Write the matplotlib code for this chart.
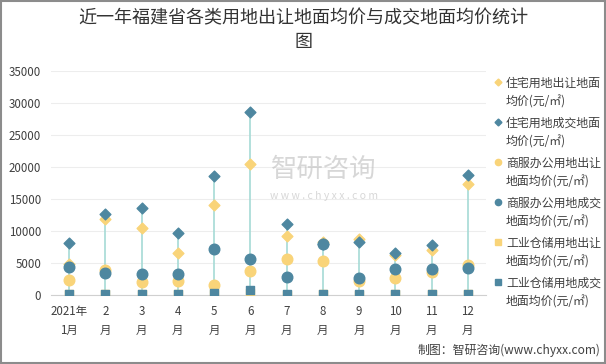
import matplotlib
matplotlib.use("Agg")
import matplotlib.pyplot as plt
from matplotlib.lines import Line2D
import numpy as np

plt.rcParams['font.family'] = ['Noto Sans CJK SC', 'DejaVu Sans']

months = ['2021年\n1月', '2\n月', '3\n月', '4\n月', '5\n月', '6\n月',
          '7\n月', '8\n月', '9\n月', '10\n月', '11\n月', '12\n月']

res_transfer = [4840, 11820, 10520, 6510, 14010, 20520, 9270, 8330, 8750, 6250, 7030, 17290]
res_deal = [8130, 12700, 13650, 9630, 18540, 28590, 11140, 8000, 8330, 6510, 7860, 18800]
com_transfer = [2400, 3900, 2080, 2240, 1510, 3700, 5570, 5360, 2240, 2660, 3540, 4690]
com_deal = [4320, 3390, 3280, 3280, 7190, 5570, 2860, 7920, 2700, 4060, 4110, 4220]
ind_transfer = [120, 130, 120, 110, 150, 300, 60, 120, 60, 80, 120, 130]
ind_deal = [150, 160, 150, 140, 360, 780, 180, 180, 160, 150, 170, 180]

labels = ['住宅用地出让地面\n均价(元/㎡)', '住宅用地成交地面\n均价(元/㎡)',
          '商服办公用地出让\n地面均价(元/㎡)', '商服办公用地成交\n地面均价(元/㎡)',
          '工业仓储用地出让\n地面均价(元/㎡)', '工业仓储用地成交\n地面均价(元/㎡)']

yellow = '#F9D479'
blue = '#4E87A0'

fig = plt.figure(figsize=(6.06, 3.64), dpi=100)
ax = fig.add_axes([51 / 606, 69 / 364, 435 / 606, 224 / 364])

x = np.arange(len(months))
allv = np.array([res_transfer, res_deal, com_transfer, com_deal, ind_transfer, ind_deal])
ax.vlines(x, allv.min(axis=0), allv.max(axis=0), color='#A6DAD6', lw=1.2, zorder=1)

ax.scatter(x, res_transfer, marker='D', s=30, color=yellow, zorder=3)
ax.scatter(x, res_deal, marker='D', s=30, color=blue, zorder=4)
ax.scatter(x, com_transfer, marker='o', s=58, color=yellow, zorder=5)
ax.scatter(x, com_deal, marker='o', s=58, color=blue, zorder=6)
ax.scatter(x, ind_transfer, marker='s', s=30, color=yellow, zorder=7)
ax.scatter(x, ind_deal, marker='s', s=30, color=blue, zorder=8)

ax.set_xlim(-0.5, len(months) - 0.5)
ax.set_ylim(0, 35000)
ax.set_yticks(np.arange(0, 35001, 5000))
ax.set_xticks(x)
ax.set_xticklabels(months, fontsize=8.3, color='#404040', linespacing=1.6)
ax.tick_params(axis='y', labelsize=8.3, colors='#404040', length=0, pad=7)
ax.tick_params(axis='x', length=0, pad=7)
ax.grid(axis='y', color='#EDEDED', lw=0.8, zorder=0)
for s in ['top', 'right', 'left']:
    ax.spines[s].set_visible(False)
ax.spines['bottom'].set_color('#D0D0D0')
ax.set_axisbelow(True)

fig.text(0.5, 0.975, '近一年福建省各类用地出让地面均价与成交地面均价统计\n图',
         ha='center', va='top', fontsize=13, color='#333333', linespacing=1.45)

# watermark
fig.text(0.535, 0.535, '智研咨询', ha='center', va='center', fontsize=19,
         color='#BDBDBD', alpha=0.6)
fig.text(0.535, 0.462, 'w w w . c h y x x . c o m', ha='center', va='center',
         fontsize=7.5, color='#BDBDBD', alpha=0.6)

# legend, marker aligned with first line of each label
markers = ['D', 'D', 'o', 'o', 's', 's']
msizes = [3.5, 3.5, 4.5, 4.5, 4.5, 4.5]
colors = [yellow, blue, yellow, blue, yellow, blue]
for i, (lab, m, ms, c) in enumerate(zip(labels, markers, msizes, colors)):
    ypix = 82 + i * 40
    yf = 1 - ypix / 364
    fig.add_artist(Line2D([498 / 606], [yf], marker=m, ms=ms, color=c, ls='',
                          transform=fig.transFigure))
    fig.text(506 / 606, 1 - (ypix - 5) / 364, lab, ha='left', va='top',
             fontsize=8.6, color='#404040', linespacing=1.55)

fig.text(0.99, 0.02, '制图：智研咨询(www.chyxx.com)', ha='right', va='bottom',
         fontsize=8.6, color='#404040')

fig.patches.append(plt.Rectangle((0.002, 0.003), 0.996, 0.994, transform=fig.transFigure,
                                 fill=False, edgecolor='#8C8C8C', lw=1.5))

fig.savefig('out.png', dpi=100)
